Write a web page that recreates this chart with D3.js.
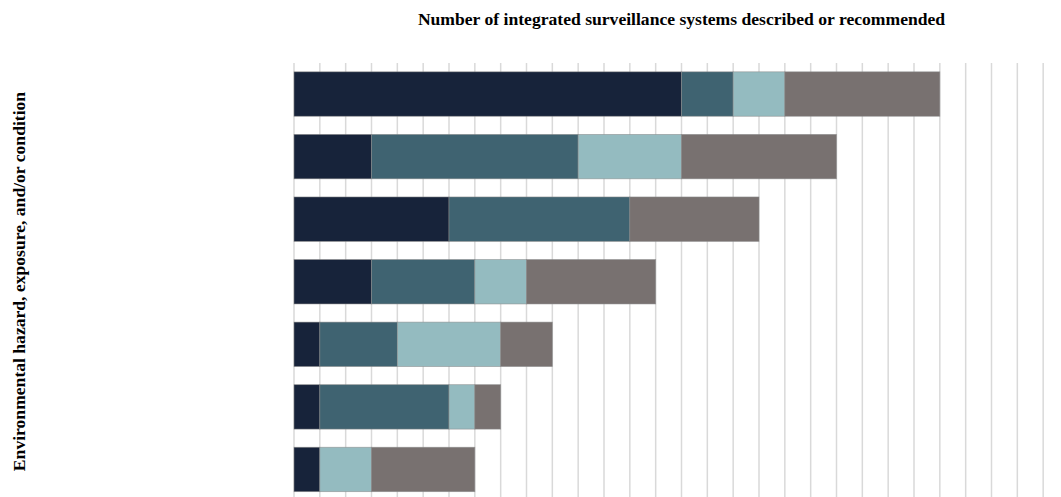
<!DOCTYPE html>
<html><head><meta charset="utf-8">
<script src="https://cdn.jsdelivr.net/npm/d3@7"></script>
<style>body{margin:0;background:#fff;}svg{display:block;}</style>
</head><body>
<svg id="c" width="1061" height="497"></svg>
<script>
const categories = ["C1","C2","C3","C4","C5","C6","C7"];
const seriesNames = ["S1","S2","S3","S4"];
const s1 = [15,3,6,3,1,1,1];
const s2 = [2,8,7,4,3,5,0];
const s3 = [2,4,0,2,4,1,2];
const s4 = [6,6,5,5,2,1,4];
const colors = ["#17233a","#3f6371","#94bbc0","#787170"];
const xTicks = d3.range(0,31);

const svg = d3.select("#c");
const x = d3.scaleLinear().domain([0,30]).range([294,1069]);
const y = d3.scaleBand().domain(categories).range([62.75,500.75]).paddingInner(0.29).paddingOuter(0.145);

const rows = categories.map((c,i)=>({cat:c, S1:s1[i], S2:s2[i], S3:s3[i], S4:s4[i]}));
const stacked = d3.stack().keys(seriesNames)(rows);

// grid
svg.append("g").selectAll("line").data(xTicks).join("line")
  .attr("x1",d=>x(d)).attr("x2",d=>x(d))
  .attr("y1",63).attr("y2",497)
  .attr("stroke","#d9d9d9").attr("stroke-width",1.5);

svg.append("g").selectAll("g").data(stacked).join("g")
  .attr("fill",(d,i)=>colors[i])
  .selectAll("rect").data(d=>d.filter(e=>e[1]-e[0]>0)).join("rect")
  .attr("x",d=>x(d[0])).attr("width",d=>x(d[1])-x(d[0]))
  .attr("y",d=>y(d.data.cat)).attr("height",y.bandwidth())
  .attr("stroke","rgba(140,140,140,0.7)").attr("stroke-width",0.75);

svg.append("text").attr("x",681.5).attr("y",25).attr("text-anchor","middle")
  .attr("font-family","Liberation Serif, serif").attr("font-weight","bold").attr("font-size",17.6)
  .attr("fill","#000")
  .text("Number of integrated surveillance systems described or recommended");

svg.append("text").attr("transform","translate(24.5,281.5) rotate(-90)").attr("text-anchor","middle")
  .attr("font-family","Liberation Serif, serif").attr("font-weight","bold").attr("font-size",17.6)
  .attr("fill","#000")
  .text("Environmental hazard, exposure, and/or condition");
</script>
</body></html>
